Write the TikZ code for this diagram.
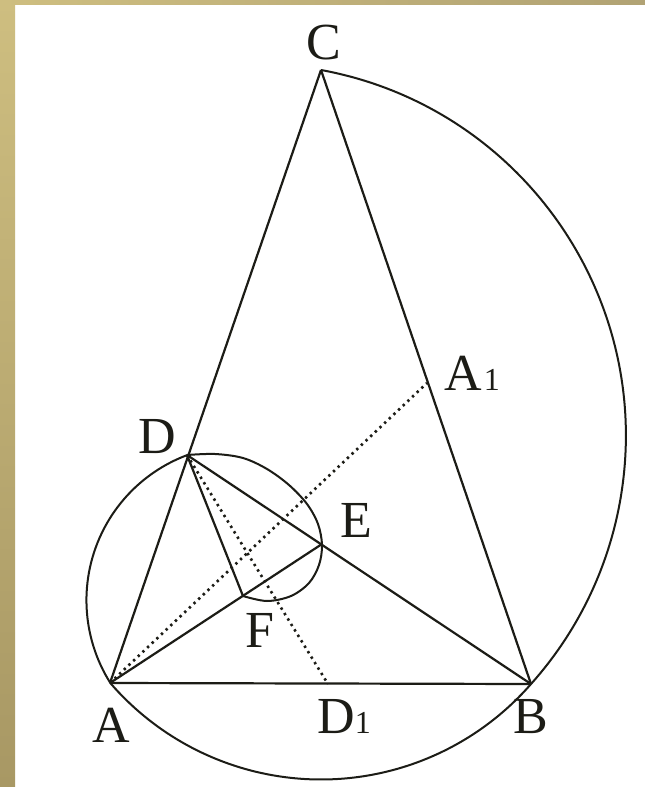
\documentclass[tikz,border=0pt]{standalone}
\usepackage{fontspec}
\setmainfont{Liberation Serif}
\definecolor{frameA}{RGB}{206,190,128}
\definecolor{frameB}{RGB}{168,152,100}
\definecolor{ink}{RGB}{28,28,22}
\begin{document}
\begin{tikzpicture}[x=1pt,y=-1pt,
  solidline/.style={draw=ink,line width=2.2pt},
  dotline/.style={draw=ink,line width=2.6pt,dash pattern=on 2.4pt off 4pt},
  lbl/.style={inner sep=0pt,font=\fontsize{52}{52}\selectfont,text=ink}]
\useasboundingbox (0,0) rectangle (645,787);
\fill[white] (0,0) rectangle (645,787);
\shade[top color=frameA,bottom color=frameB] (0,0) rectangle (15,787);
\shade[left color=frameA,right color=frameB!90!white] (0,0) rectangle (645,4);

\coordinate (A) at (110,683);
\coordinate (B) at (531,684);
\coordinate (C) at (321,70);
\coordinate (D) at (187,455);
\coordinate (E) at (322,544);
\coordinate (F) at (243,596);
\coordinate (D1) at (328,684);
\coordinate (A1) at (427,383);

% outer curve: C -> B (large arc), B -> A (bottom arc), A -> D (left arc)
\draw[solidline,line width=2pt] (C) arc[start angle=-79.6,end angle=41.8,radius=372]
  arc[start angle=41.03,end angle=139.1,radius=278.5]
  arc[start angle=147.6,end angle=249.6,radius=155];
% inner loop D -> E -> F
\draw[solidline,line width=2pt] plot[smooth,tension=0.55] coordinates {
 (187,455) (215,454) (243,458) (267,469) (289,485) (307,504) (318,524)
 (322,545) (319,565) (309,583) (291,596) (267,601) (243,596)};

\draw[solidline] (A) -- (C);
\draw[solidline] (C) -- (B);
\draw[solidline] (A) -- (B);
\draw[solidline] (D) -- (B);
\draw[solidline] (A) -- (E);
\draw[solidline] (D) -- (F);
\draw[dotline] (A) -- (A1);
\draw[dotline] (D) -- (D1);

\node[lbl,anchor=base] (lC) at (324,59) {C};
\node[lbl,anchor=base] (lD) at (157,453) {D};
\node[lbl,anchor=base] (lE) at (356,537) {E};
\node[lbl,anchor=base] (lF) at (260,647) {F};
\node[lbl,anchor=base] (lA) at (111,742) {A};
\node[lbl,anchor=base] (lB) at (531,733) {B};
\node[lbl,anchor=base west] (lD1) at (317,733) {D{\fontsize{32}{32}\selectfont 1}};
\node[lbl,anchor=base west] (lA1) at (444,390) {A\kern2pt{\fontsize{32}{32}\selectfont 1}};
\end{tikzpicture}
\end{document}
